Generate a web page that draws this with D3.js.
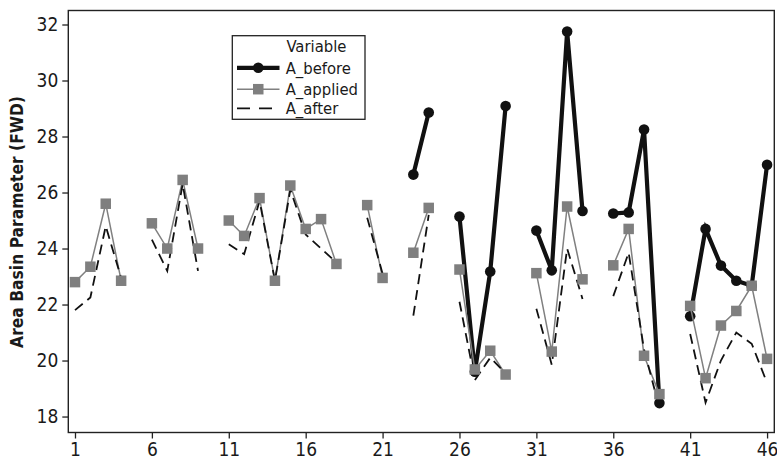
<!DOCTYPE html>
<html>
<head>
<meta charset="utf-8">
<script src="https://cdn.jsdelivr.net/npm/d3@7"></script>
<style>
  html, body { margin: 0; padding: 0; background: #fff; }
  svg { display: block; }
  .tick text { font-family: "DejaVu Sans Condensed", "DejaVu Sans", sans-serif; font-stretch: condensed; }
</style>
</head>
<body>
<svg id="chart" width="777" height="464"></svg>
<script>
// Observation index 1..46
const idx = d3.range(1, 47);

// Area Basin Parameter values per observation (null = no value, line breaks)
const aBefore = [
  null, null, null, null, null, null, null, null, null, null,
  null, null, null, null, null, null, null, null, null, null,
  null, null, 26.64, 28.86, null, 25.14, 19.6, 23.18, 29.09, null,
  24.64, 23.22, 31.75, 25.34, null, 25.25, 25.29, 28.25, 18.48, null,
  21.58, 24.7, 23.39, 22.85, 22.67, 26.99
];
const aApplied = [
  22.8, 23.35, 25.6, 22.85, null, 24.9, 24.0, 26.45, 24.0, null,
  25.0, 24.45, 25.8, 22.85, 26.25, 24.7, 25.05, 23.45, null, 25.55,
  22.95, null, 23.85, 25.45, null, 23.25, 19.68, 20.35, 19.5, null,
  23.12, 20.32, 25.5, 22.9, null, 23.4, 24.7, 20.17, 18.8, null,
  21.95, 19.37, 21.25, 21.77, 22.67, 20.06
];
const aAfter = [
  21.8, 22.25, 24.8, 22.95, null, 24.32, 23.2, 26.3, 23.2, null,
  24.15, 23.8, 25.7, 22.85, 26.1, 24.5, 24.0, 23.5, null, 25.1,
  23.1, null, 21.6, 25.2, null, 22.1, 19.3, 20.1, 19.55, null,
  21.85, 19.85, 24.0, 22.2, null, 22.3, 23.85, 20.4, 18.3, null,
  20.95, 18.5, 20.0, 21.0, 20.6, 19.2
];

const xTicks = [1, 6, 11, 16, 21, 26, 31, 36, 41, 46];
const yTicks = [18, 20, 22, 24, 26, 28, 30, 32];
const legendTitle = "Variable";
const seriesNames = ["A_before", "A_applied", "A_after"];

const svg = d3.select("#chart");
const plot = { left: 68.3, right: 774.3, top: 10.5, bottom: 432.5 };

const x = d3.scaleLinear().domain([0.565, 46.47]).range([plot.left, plot.right]);
const y = d3.scaleLinear().domain([17.43, 32.5]).range([plot.bottom, plot.top]);

const pts = vals => idx.map((i, k) => ({ i, v: vals[k] }));
const line = d3.line()
  .defined(d => d.v != null)
  .x(d => x(d.i))
  .y(d => y(d.v));

// Axes
const xAxis = svg.append("g")
  .attr("transform", `translate(0,${plot.bottom})`)
  .call(d3.axisBottom(x).tickValues(xTicks).tickSize(6).tickSizeOuter(0).tickPadding(4));
const yAxis = svg.append("g")
  .attr("transform", `translate(${plot.left},0)`)
  .call(d3.axisLeft(y).tickValues(yTicks).tickSize(6).tickSizeOuter(0).tickPadding(4));
[xAxis, yAxis].forEach(g => {
  g.select(".domain").remove();
  g.selectAll(".tick line").attr("stroke", "#222").attr("stroke-width", 1.3);
  g.selectAll(".tick text").attr("fill", "#1a1a1a").style("font-size", "19px");
});

// Plot frame
svg.append("rect")
  .attr("x", plot.left).attr("y", plot.top)
  .attr("width", plot.right - plot.left).attr("height", plot.bottom - plot.top)
  .attr("fill", "none").attr("stroke", "#222").attr("stroke-width", 1.4);

// Y axis title
svg.append("text")
  .attr("transform", `translate(23,222) rotate(-90)`)
  .attr("text-anchor", "middle")
  .attr("font-family", "'DejaVu Sans Condensed', 'DejaVu Sans', sans-serif")
  .style("font-stretch", "condensed")
  .attr("font-weight", "bold")
  .attr("font-size", 17.3)
  .attr("fill", "#1a1a1a")
  .text("Area Basin Parameter (FWD)");

// A_before: thick black line with circles
const before = pts(aBefore);
svg.append("path").datum(before)
  .attr("d", line).attr("fill", "none")
  .attr("stroke", "#111").attr("stroke-width", 4.2);
svg.append("g").selectAll("circle")
  .data(before.filter(d => d.v != null))
  .join("circle")
  .attr("cx", d => x(d.i)).attr("cy", d => y(d.v)).attr("r", 5.3)
  .attr("fill", "#111");

// A_applied: thin grey line
const applied = pts(aApplied);
svg.append("path").datum(applied)
  .attr("d", line).attr("fill", "none")
  .attr("stroke", "#808080").attr("stroke-width", 1.5);

// A_after: dashed black line
const after = pts(aAfter);
svg.append("path").datum(after)
  .attr("d", line).attr("fill", "none")
  .attr("stroke", "#111").attr("stroke-width", 1.8)
  .attr("stroke-dasharray", "10,6");

// A_applied square markers
const sq = 10.5;
svg.append("g").selectAll("rect")
  .data(applied.filter(d => d.v != null))
  .join("rect")
  .attr("x", d => x(d.i) - sq / 2).attr("y", d => y(d.v) - sq / 2)
  .attr("width", sq).attr("height", sq)
  .attr("fill", "#7f7f7f");

// Legend
const lg = svg.append("g");
lg.append("rect")
  .attr("x", 232.3).attr("y", 35.7).attr("width", 132.7).attr("height", 83.6)
  .attr("fill", "#fff").attr("stroke", "#222").attr("stroke-width", 1.3);
const lgFont = "'DejaVu Sans Condensed', 'DejaVu Sans', sans-serif";
lg.append("text")
  .attr("x", 286.5).attr("y", 51.5)
  .attr("font-family", lgFont).style("font-stretch", "condensed")
  .attr("font-size", 16.5).attr("fill", "#1a1a1a")
  .text(legendTitle);
const rows = [67.8, 89.2, 108.3];
const lx0 = 237, lx1 = 279.5, lxc = (lx0 + lx1) / 2;
// before sample
lg.append("line").attr("x1", lx0).attr("x2", lx1).attr("y1", rows[0]).attr("y2", rows[0])
  .attr("stroke", "#111").attr("stroke-width", 4.2);
lg.append("circle").attr("cx", lxc).attr("cy", rows[0]).attr("r", 5.3).attr("fill", "#111");
// applied sample
lg.append("line").attr("x1", lx0).attr("x2", lx1).attr("y1", rows[1]).attr("y2", rows[1])
  .attr("stroke", "#808080").attr("stroke-width", 1.5);
lg.append("rect").attr("x", lxc - sq / 2).attr("y", rows[1] - sq / 2)
  .attr("width", sq).attr("height", sq).attr("fill", "#7f7f7f");
// after sample
lg.append("line").attr("x1", lx0).attr("x2", lx1).attr("y1", rows[2]).attr("y2", rows[2])
  .attr("stroke", "#111").attr("stroke-width", 1.8).attr("stroke-dasharray", "13,9");
rows.forEach((ry, k) => {
  lg.append("text")
    .attr("x", 285.7).attr("y", ry + 6)
    .attr("font-family", lgFont).style("font-stretch", "condensed")
    .attr("font-size", 16.5).attr("fill", "#1a1a1a")
    .text(seriesNames[k]);
});
</script>
</body>
</html>
